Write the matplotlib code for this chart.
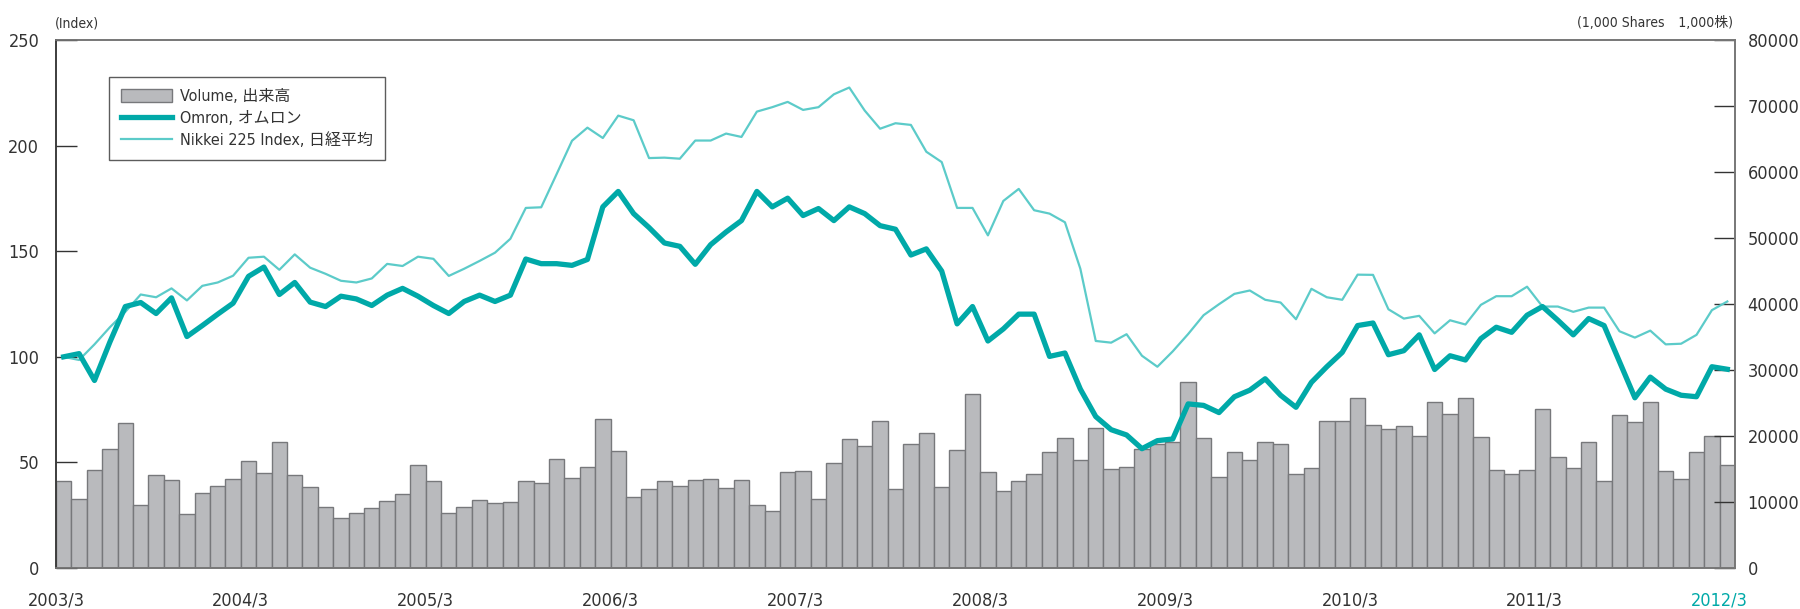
import matplotlib
matplotlib.use("Agg")
import matplotlib.pyplot as plt
from matplotlib import font_manager
from matplotlib.patches import Patch
from matplotlib.lines import Line2D
import numpy as np

# Dati mensili 2003/3 - 2012/3 (109 mesi)
year_labels = ["2003/3", "2004/3", "2005/3", "2006/3", "2007/3",
               "2008/3", "2009/3", "2010/3", "2011/3", "2012/3"]

omron = [100, 101.5, 88.8, 107, 123.8, 125.7, 120.5, 127.9, 109.6, 114.8,
         120.2, 125.4, 138.1, 142.5, 129.5, 135.2, 125.9, 123.8, 128.7, 127.4,
         124.3, 129.2, 132.4, 128.7, 124.3, 120.5, 126.2, 129.2, 126.2, 129.2,
         146.3, 144.1, 144.1, 143.3, 146.1, 171, 178.3, 167.8, 161.2, 153.9,
         152.3, 143.8, 153.1, 159.1, 164.5, 178.3, 171, 175.1, 166.9, 170.2,
         164.5, 171, 167.8, 162.1, 160.4, 148.2, 151.1, 140.6, 115.6, 123.8,
         107.5, 113.2, 120.2, 120.2, 100.2, 101.8, 84.7, 71.7, 65.5, 63,
         56.5, 60.3, 61.1, 77.7, 77, 73.6, 81.1, 84.2, 89.6, 81.8,
         76.1, 87.9, 95.3, 102.1, 114.8, 116, 101, 102.9, 110.4, 94,
         100.5, 98.5, 108.6, 114, 111.6, 119.7, 123.8, 117.3, 110.4, 118.1,
         114.8, 97.7, 80.6, 90.4, 84.7, 81.8, 81.1, 95.3, 94.1]

nikkei = [100, 98.5, 105.9, 114, 121.3, 129.5, 128.2, 132.4, 126.7, 133.6,
          135.2, 138.4, 146.9, 147.4, 141.2, 148.5, 142.2, 139.3, 136, 135.2,
          137.1, 144, 143, 147.4, 146.4, 138.3, 141.7, 145.4, 149.3, 155.9,
          170.5, 170.8, 186.5, 202.3, 208.5, 203.6, 214.2, 212, 194.1, 194.3,
          193.8, 202.4, 202.4, 205.7, 204.1, 216.1, 218.2, 220.7, 216.9, 218.2,
          224.3, 227.5, 216.6, 208, 210.6, 209.8, 197.1, 192.2, 170.5, 170.5,
          157.5, 173.8, 179.5, 169.4, 167.8, 163.7, 141.7, 107.5, 106.7, 110.7,
          100.5, 95.3, 102.6, 110.8, 119.7, 124.9, 129.8, 131.4, 127, 125.7,
          117.8, 132.2, 128.2, 127, 138.9, 138.8, 122.5, 118.1, 119.4, 111.1,
          117.3, 115.3, 124.6, 128.7, 128.7, 133.2, 123.8, 123.8, 121.3, 123.3,
          123.3, 112.1, 109.1, 112.4, 105.9, 106.2, 110.4, 122.1, 126.2]

volume = [13130, 10520, 14900, 18030, 21930, 9590, 14070, 13340, 8130, 11360,
          12500, 13490, 16260, 14430, 19020, 14070, 12350, 9270, 7610, 8390,
          9120, 10110, 11250, 15680, 13130, 8280, 9270, 10260, 9900, 9950,
          13180, 12920, 16460, 13700, 15370, 22560, 17710, 10730, 11980, 13230,
          12400, 13340, 13440, 12090, 13390, 9530, 8650, 14590, 14740, 10420,
          15840, 19490, 18500, 22250, 11980, 18760, 20530, 12240, 17920, 26420,
          14590, 11720, 13230, 14280, 17560, 19750, 16410, 21210, 15010, 15320,
          18030, 18760, 19120, 28240, 19690, 13810, 17610, 16410, 19120, 18760,
          14220, 15160, 22350, 22250, 25740, 21730, 21000, 21520, 19950, 25160,
          23390, 25690, 19800, 14850, 14220, 14850, 24120, 16830, 15160, 19120,
          13180, 23190, 22140, 25110, 14740, 13490, 17560, 20010, 15580]

# cerca un carattere stretto (narrow / condensed) tra quelli installati
narrow_file = None
for f in font_manager.fontManager.ttflist:
    fn = f.fname.lower()
    if ("narrow" in fn or "condensed" in fn) and f.weight in (400, "normal", "regular") \
            and f.style == "normal" and "bold" not in fn and "light" not in fn:
        if narrow_file is None or "liberation" in fn:
            narrow_file = f
if narrow_file is not None:
    main_font = narrow_file.name
    main_stretch = narrow_file.stretch
    tick_size = 13
else:
    main_font = "Roboto"
    main_stretch = "normal"
    tick_size = 12

plt.rcParams["font.family"] = [main_font, "Noto Sans CJK JP", "DejaVu Sans"]
plt.rcParams["font.stretch"] = main_stretch

bar_face = "#b9babd"
bar_edge = "#77787b"
omron_col = "#00a9a8"
nikkei_col = "#5ccbc9"
txt_col = "#333333"

n = len(volume)
x = np.arange(n) + 0.5

fig = plt.figure(figsize=(18, 6.09), dpi=100)
ax = fig.add_axes([0.0311, 0.0673, 0.9328, 0.867])
ax2 = ax.twinx()

# barre del volume sull'asse destro
ax2.bar(x, volume, width=1.0, color=bar_face, edgecolor=bar_edge, linewidth=1.0)
ax2.set_ylim(0, 80000)
ax2.set_yticks(np.arange(0, 80001, 10000))

# linee indice sull'asse sinistro, disegnate sopra le barre
ax.plot(x, nikkei, color=nikkei_col, linewidth=1.6, zorder=3)
ax.plot(x, omron, color=omron_col, linewidth=3.8, zorder=4)
ax.set_ylim(0, 250)
ax.set_yticks(np.arange(0, 251, 50))
ax.set_xlim(0, n)
ax.set_zorder(ax2.get_zorder() + 1)
ax.patch.set_visible(False)

ax.set_xticks(np.arange(0, n, 12))
ax.set_xticklabels(year_labels)
ax.tick_params(axis="x", length=0, pad=17, labelsize=tick_size, colors=txt_col)
ax.tick_params(axis="y", direction="in", length=15, width=1.0, pad=12,
               labelsize=tick_size, colors=txt_col)
ax2.tick_params(axis="y", direction="in", length=15, width=1.0, pad=9,
                labelsize=tick_size, colors=txt_col)
ax.get_xticklabels()[-1].set_color(omron_col)

for a in (ax, ax2):
    for s in a.spines.values():
        s.set_color("#777777")
        s.set_linewidth(1.2)
ax.spines["left"].set_color("#333333")

fig.text(0.0306, 0.962, "(Index)", fontsize=10, color=txt_col, ha="left", va="center")
fig.text(0.9628, 0.962, "(1,000 Shares\u30001,000株)", fontsize=10, color=txt_col,
         ha="right", va="center")

handles = [Patch(facecolor=bar_face, edgecolor=bar_edge, linewidth=1.0),
           Line2D([], [], color=omron_col, linewidth=3.8),
           Line2D([], [], color=nikkei_col, linewidth=1.6)]
labels = ["Volume, 出来高", "Omron, オムロン", "Nikkei 225 Index, 日経平均"]
leg = ax.legend(handles, labels, loc="upper left", bbox_to_anchor=(0.0316, 0.93),
                borderaxespad=0, fontsize=11.5, frameon=True, fancybox=False,
                borderpad=0.75, handlelength=3.2, handleheight=0.9,
                labelspacing=0.4, handletextpad=0.5)
leg.get_frame().set_edgecolor("#333333")
leg.get_frame().set_linewidth(1.0)
for t in leg.get_texts():
    t.set_color(txt_col)

fig.savefig("out.png", dpi=100)
